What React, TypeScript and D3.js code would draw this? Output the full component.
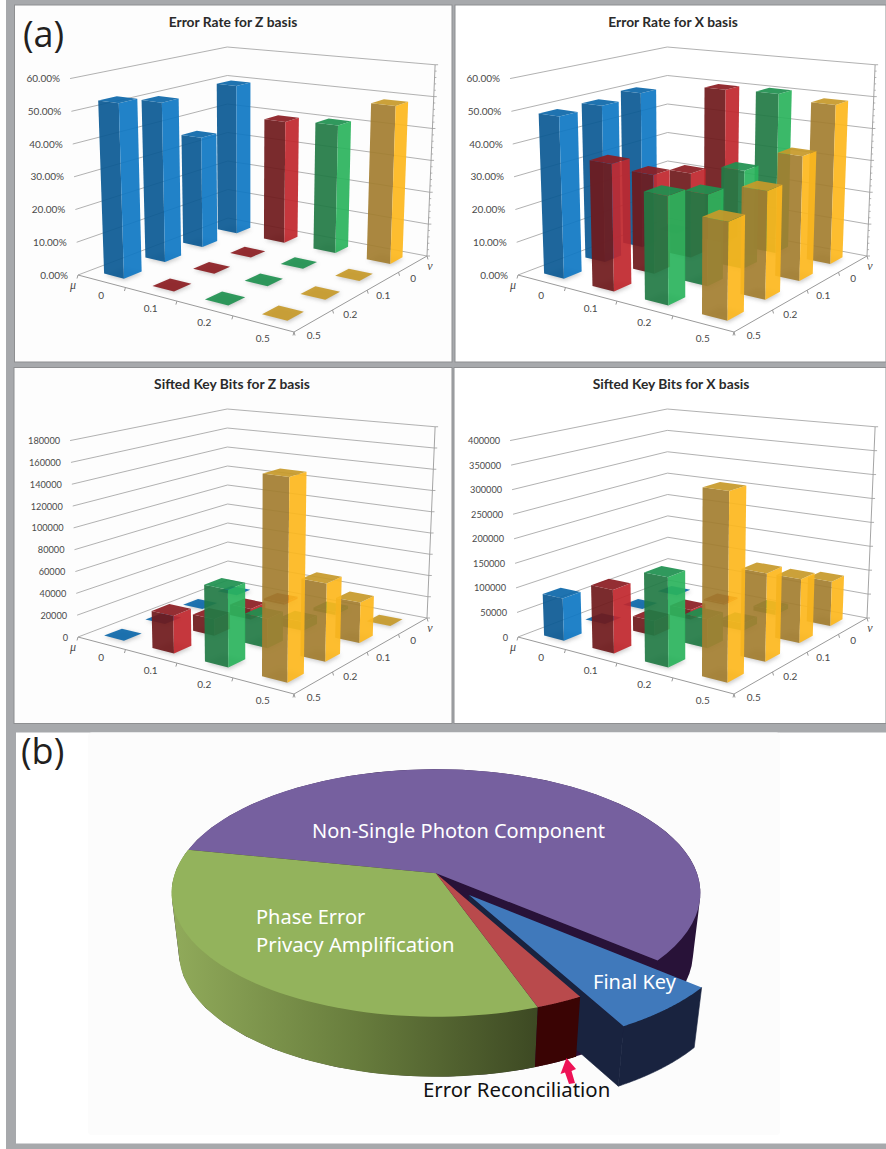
import React from "react";
import * as d3 from "d3";

const muCats = ["0", "0.1", "0.2", "0.5"];
const nuCats = ["0", "0.1", "0.2", "0.5"];

// rows: mu; columns: nu = 0, 0.1, 0.2, 0.5
const errorZ = [
  [0.495, 0.355, 0.5, 0.53],
  [0.395, 0, 0, 0],
  [0.405, 0, 0, 0],
  [0.487, 0, 0, 0],
];
const errorX = [
  [0, 0.5, 0.49, 0.49],
  [0.5, 0.265, 0.3, 0.373],
  [0.505, 0.3, 0.27, 0.31],
  [0.49, 0.37, 0.31, 0.27],
];
const siftedZ = [
  [0, 0, 0, 0],
  [2000, 10000, 15000, 33000],
  [3000, 8000, 26000, 66000],
  [0, 36000, 67000, 168500],
];
const siftedX = [
  [0, 0, 0, 85000],
  [3000, 20000, 30000, 124000],
  [10000, 15000, 57000, 170000],
  [91000, 126000, 168000, 349000],
];
const errorTicks = [0, 0.1, 0.2, 0.3, 0.4, 0.5, 0.6];
const siftedZTicks = d3.range(0, 180001, 20000);
const siftedXTicks = d3.range(0, 400001, 50000);

const pieLabels = ["Non-Single Photon Component", "Final Key", "Error Reconciliation", "Phase Error Privacy Amplification"];
const pieShares = [58, 5.9, 2.5, 33.6];

const faceColors = [
  { left: "#0b5a94", right: "#0f78c4", top: "#0d68aa" },
  { left: "#6f1a1c", right: "#c1272d", top: "#8c1d22" },
  { left: "#227a45", right: "#2bb45d", top: "#1f9150" },
  { left: "#a37e30", right: "#fdb81e", top: "#c79a2a" },
];

type Pt = [number, number];
const FONT = "Lato, 'Open Sans', sans-serif";
const TEXT = "#4a4a4a";

function homography(p00: Pt, p10: Pt, p11: Pt, p01: Pt) {
  const dx1 = p10[0] - p11[0], dx2 = p01[0] - p11[0], sx = p00[0] - p10[0] + p11[0] - p01[0];
  const dy1 = p10[1] - p11[1], dy2 = p01[1] - p11[1], sy = p00[1] - p10[1] + p11[1] - p01[1];
  const den = dx1 * dy2 - dx2 * dy1;
  const g = (sx * dy2 - dx2 * sy) / den;
  const h = (dx1 * sy - sx * dy1) / den;
  const a = p10[0] - p00[0] + g * p10[0], b = p01[0] - p00[0] + h * p01[0], c = p00[0];
  const d = p10[1] - p00[1] + g * p10[1], e = p01[1] - p00[1] + h * p01[1], f = p00[1];
  return (u: number, v: number) => {
    const w = g * u + h * v + 1;
    return { x: (a * u + b * v + c) / w, y: (d * u + e * v + f) / w, w };
  };
}

const poly = (pts: Pt[]) => "M" + pts.map((p) => `${p[0].toFixed(2)},${p[1].toFixed(2)}`).join("L") + "Z";

interface PanelProps {
  ox: number; oy: number; title: string; titleX: number; titleY: number;
  data: number[][]; ticks: number[]; fmt: (n: number) => string; minor: boolean; tickSize: number;
}

function Bars3D({ ox, oy, title, titleX, titleY, data, ticks, fmt, minor, tickSize }: PanelProps) {
  const floor = homography([228 + ox, 218 + oy], [427 + ox, 256 + oy], [294 + ox, 332 + oy], [78 + ox, 275 + oy]);
  const zScale = d3.scaleLinear().domain([0, ticks[ticks.length - 1]]).range([0, 171]);
  const uBand = d3.scaleBand().domain(muCats).range([0, 1]).paddingInner(0.58).paddingOuter(0.29);
  const vBand = d3.scaleBand().domain(nuCats).range([0, 1]).paddingInner(0.58).paddingOuter(0.29);
  const uMid = d3.scalePoint().domain(muCats).range([0.125, 0.875]);
  const vMid = d3.scalePoint().domain(nuCats).range([0.125, 0.875]);
  const vx = 248 + ox;

  const project = (u: number, v: number, value: number): Pt => {
    const f = floor(u, v);
    const h = zScale(value) / Math.pow(f.w, 0.8);
    return [f.x + (f.x - vx) * h * 2.37e-4, f.y - h];
  };

  const cells = muCats.flatMap((m, i) => nuCats.map((n, j) => ({ m, n, i, j, value: data[i][j] })));
  cells.sort((a, b) => a.i + a.j - (b.i + b.j));

  const axisColor = "#9a9a9a";
  const wallPath = (value: number) => {
    const pts = [project(0, 1, value), project(0, 0, value), project(1, 0, value)];
    return "M" + pts.map((p) => p.join(",")).join("L");
  };
  const A = project(0, 1, 0), B = project(1, 1, 0), C = project(1, 0, 0);
  const top = ticks[ticks.length - 1];
  const step = ticks[1] - ticks[0];
  const rightTop = project(1, 0, top);

  return (
    <g>
      <text x={titleX} y={titleY} textAnchor="middle" fontFamily={FONT} fontWeight={700} fontSize={13.8} fill="#2a2a2a">{title}</text>
      {ticks.map((t) => {
        const p = project(0, 1, t);
        const r = project(1, 0, t);
        return (
          <g key={t}>
            <path d={wallPath(t)} fill="none" stroke="#a8a8a8" strokeWidth={0.9} />
            <line x1={r[0]} y1={r[1]} x2={r[0] + 3} y2={r[1]} stroke={axisColor} strokeWidth={0.8} />
            <text x={p[0] - 10} y={p[1] + 3.5} textAnchor="end" fontFamily={FONT} fontSize={tickSize} fill={TEXT}>{fmt(t)}</text>
          </g>
        );
      })}
      <line x1={C[0]} y1={C[1]} x2={rightTop[0]} y2={rightTop[1]} stroke={axisColor} strokeWidth={0.9} />
      {minor && ticks.slice(0, -1).flatMap((t) =>
        [0.2, 0.4, 0.6, 0.8].map((q) => {
          const r = project(1, 0, t + q * step);
          return <line key={`${t}-${q}`} x1={r[0]} y1={r[1]} x2={r[0] + 1.8} y2={r[1]} stroke={axisColor} strokeWidth={0.7} />;
        })
      )}
      <line x1={A[0]} y1={A[1]} x2={B[0]} y2={B[1]} stroke={axisColor} strokeWidth={1} />
      <line x1={B[0]} y1={B[1]} x2={C[0]} y2={C[1]} stroke={axisColor} strokeWidth={1} />
      {d3.range(0, 5).map((q) => {
        const a = project(q / 4, 1, 0), b = project(1, q / 4, 0);
        return (
          <g key={q}>
            <line x1={a[0]} y1={a[1]} x2={a[0] - 1} y2={a[1] + 3.5} stroke={axisColor} />
            <line x1={b[0]} y1={b[1]} x2={b[0] + 1} y2={b[1] + 3.5} stroke={axisColor} />
          </g>
        );
      })}
      {muCats.map((m) => {
        const p = project(uMid(m)!, 1, 0);
        return <text key={m} x={p[0]} y={p[1] + 18} textAnchor="middle" fontFamily={FONT} fontSize={10} fill={TEXT}>{m}</text>;
      })}
      {nuCats.map((n) => {
        const p = project(1, vMid(n)!, 0);
        return <text key={n} x={p[0]} y={p[1] + 18} textAnchor="middle" fontFamily={FONT} fontSize={10} fill={TEXT}>{n}</text>;
      })}
      <text x={A[0] - 5} y={A[1] + 14} textAnchor="middle" fontFamily="'Liberation Serif', serif" fontStyle="italic" fontSize={12} fill={TEXT}>μ</text>
      <text x={C[0] + 3} y={C[1] + 14} textAnchor="middle" fontFamily="'Liberation Serif', serif" fontStyle="italic" fontSize={12} fill={TEXT}>ν</text>

      {cells.map((c) => {
        const u0 = uBand(c.m)!, u1 = u0 + uBand.bandwidth();
        const v0 = vBand(c.n)!, v1 = v0 + vBand.bandwidth();
        const col = faceColors[c.i];
        const base = [project(u0, v0, 0), project(u1, v0, 0), project(u1, v1, 0), project(u0, v1, 0)];
        const roof = [project(u0, v0, c.value), project(u1, v0, c.value), project(u1, v1, c.value), project(u0, v1, c.value)];
        return (
          <g key={`${c.i}-${c.j}`}>
            <path d={poly(base)} fill="#777" opacity={0.4} filter="url(#softShadow)" transform="translate(1,1.5)" />
            <g opacity={0.92}>
              {c.value > 0 && <path d={poly([base[3], base[2], roof[2], roof[3]])} fill={col.left} />}
              {c.value > 0 && <path d={poly([base[2], base[1], roof[1], roof[2]])} fill={col.right} />}
              <path d={poly(roof)} fill={col.top} />
            </g>
          </g>
        );
      })}
    </g>
  );
}

// Pie in perspective
const PIE = { cx: 436, cy: 873.3, a: 261, b: 120.6, k: -0.159, t: 60, lean: 0.028 };
const pieProject = (theta: number, r = 1, dX = 0, dY = 0): Pt => {
  const X = r * Math.sin(theta) + dX;
  const Y = -r * Math.cos(theta) + dY;
  const den = 1 + PIE.k * Y;
  return [PIE.cx + (PIE.a * X) / den, PIE.cy + (PIE.b * Y) / den];
};
const lower = (p: Pt): Pt => [p[0] - (p[0] - PIE.cx) * PIE.lean, p[1] + PIE.t];
const arcPts = (a0: number, a1: number, dX = 0, dY = 0): Pt[] =>
  d3.range(0, 61).map((i) => pieProject(a0 + ((a1 - a0) * i) / 60, 1, dX, dY));

function Pie3D() {
  const start = (281.6 * Math.PI) / 180;
  const arcs = d3.pie<number>().sort(null).startAngle(start).endAngle(start + 2 * Math.PI)(pieShares);
  const [purple, key, red, green] = arcs;
  const EX = 0.123, EY = 0.175;
  const center = pieProject(0, 0);
  const keyCenter = pieProject(0, 0, EX, EY);

  const sector = (s: d3.PieArcDatum<number>, dX = 0, dY = 0, c = center) =>
    poly([c, ...arcPts(s.startAngle, s.endAngle, dX, dY)]);
  const side = (a0: number, a1: number, dX = 0, dY = 0) => {
    const pts = arcPts(a0, a1, dX, dY);
    return poly(d3.polygonHull([...pts, ...pts.map(lower)]) as Pt[]);
  };
  const purpleEnd = pieProject(purple.endAngle);
  const keyEnd = pieProject(key.endAngle, 1, EX, EY);
  const navy = "#19233f";
  const dark = "#281238";

  return (
    <g>
      <path d={side(Math.PI * 0.3, purple.endAngle)} fill={dark} />
      <path d={poly([center, purpleEnd, lower(purpleEnd), lower(center)])} fill={dark} />
      <path d={poly([keyCenter, keyEnd, lower(keyEnd), lower(keyCenter)])} fill={navy} stroke={navy} strokeWidth={0.6} />
      <path d={side(key.startAngle, key.endAngle, EX, EY)} fill={navy} stroke={navy} strokeWidth={0.6} />
      <path d={sector(key, EX, EY, keyCenter)} fill="#4079bb" />
      <path d={sector(purple)} fill="#76609f" />
      <path d={side(green.startAngle, green.endAngle)} fill="url(#greenSide)" />
      <path d={side(red.startAngle, red.endAngle)} fill="#3a0404" />
      <path d={sector(green)} fill="#93b35c" />
      <path d={sector(red)} fill="#b94a4c" />

      <text x={312} y={838} fontFamily="'Noto Sans', sans-serif" fontSize={20} fill="#fff">{pieLabels[0]}</text>
      <text x={256} y={924} fontFamily="'Noto Sans', sans-serif" fontSize={20} fill="#fff">Phase Error</text>
      <text x={256} y={952} fontFamily="'Noto Sans', sans-serif" fontSize={20.3} fill="#fff">Privacy Amplification</text>
      <text x={593} y={989} fontFamily="'Noto Sans', sans-serif" fontSize={20} fill="#fff">{pieLabels[1]}</text>
      <text x={423} y={1097} fontFamily="'Noto Sans', sans-serif" fontSize={20.4} fill="#111">{pieLabels[2]}</text>
      <path d="M566.5,1058 L576,1069 L571.5,1071 L575,1083 L569,1084 L565,1072.5 L560.5,1074 Z" fill="#ee1256" />
    </g>
  );
}

const panelRects = [
  [14.5, 5, 437.5, 357],
  [455, 5, 431, 357],
  [14, 367.5, 438, 356],
  [454, 367.5, 432, 356],
];

export default function App() {
  return (
    <svg width={886} height={1149} viewBox="0 0 886 1149" style={{ position: "absolute", left: 0, top: 0, display: "block" }}>
      <defs>
        <filter id="softShadow" x="-30%" y="-30%" width="160%" height="160%">
          <feGaussianBlur stdDeviation="2" />
        </filter>
        <linearGradient id="greenSide" gradientUnits="userSpaceOnUse" x1={175} x2={538} y1={0} y2={0}>
          <stop offset="0" stopColor="#90aa5a" />
          <stop offset="0.5" stopColor="#687d3d" />
          <stop offset="1" stopColor="#3d4923" />
        </linearGradient>
      </defs>
      <rect width={886} height={1149} fill="#fff" />
      <rect x={6} y={0} width={880} height={1149} fill="#a7a9ac" />
      {panelRects.map((r, i) => (
        <rect key={i} x={r[0]} y={r[1]} width={r[2]} height={r[3]} fill={i % 2 ? "#fff" : "#fdfdfd"} stroke="#8e8f91" strokeWidth={1} />
      ))}
      <rect x={16} y={732.5} width={870} height={411} fill="#fff" />
      <rect x={88} y={732.5} width={692} height={402.5} rx={4} fill="#fcfcfc" />

      <Bars3D ox={0} oy={0} title="Error Rate for Z basis" titleX={233} titleY={27} data={errorZ} ticks={errorTicks} fmt={d3.format(".2%")} minor tickSize={10} />
      <Bars3D ox={440} oy={0} title="Error Rate for X basis" titleX={673} titleY={27} data={errorX} ticks={errorTicks} fmt={d3.format(".2%")} minor tickSize={10} />
      <Bars3D ox={0} oy={362} title="Sifted Key Bits for Z basis" titleX={232} titleY={389} data={siftedZ} ticks={siftedZTicks} fmt={d3.format("d")} minor={false} tickSize={9.2} />
      <Bars3D ox={440} oy={362} title="Sifted Key Bits for X basis" titleX={671} titleY={389} data={siftedX} ticks={siftedXTicks} fmt={d3.format("d")} minor={false} tickSize={9.2} />

      <Pie3D />

      <text x={23} y={47} fontFamily="'Open Sans', sans-serif" fontSize={36} fill="#231f20">(a)</text>
      <text x={21} y={764} fontFamily="'Open Sans', sans-serif" fontSize={36} fill="#231f20">(b)</text>
    </svg>
  );
}
